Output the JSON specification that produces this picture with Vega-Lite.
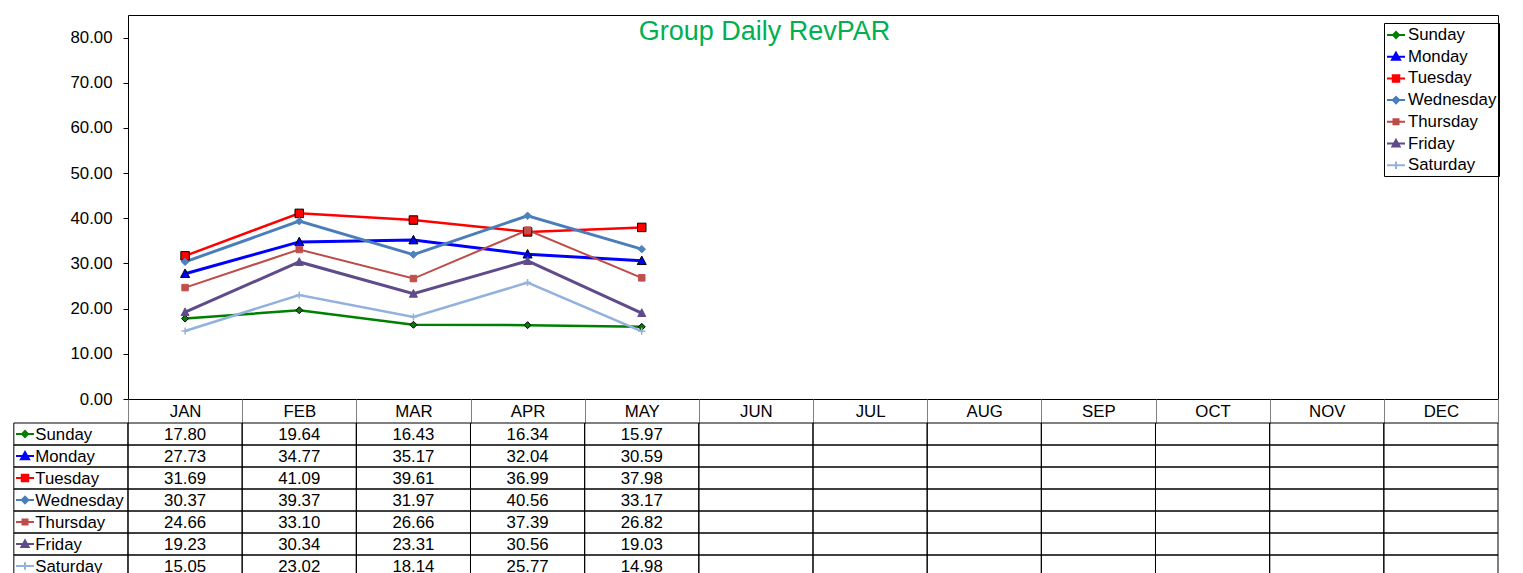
{
  "$schema": "https://vega.github.io/schema/vega-lite/v6.json",
  "padding": {"left": 12, "top": 14, "right": 0, "bottom": 0},
  "config": {"font": "Liberation Sans", "view": {"stroke": null}},
  "datasets": {
    "rev": [
      {"day": "Sunday", "month": "JAN", "value": 17.80}, {"day": "Sunday", "month": "FEB", "value": 19.64}, {"day": "Sunday", "month": "MAR", "value": 16.43}, {"day": "Sunday", "month": "APR", "value": 16.34}, {"day": "Sunday", "month": "MAY", "value": 15.97},
      {"day": "Sunday", "month": "JUN", "value": null}, {"day": "Sunday", "month": "JUL", "value": null}, {"day": "Sunday", "month": "AUG", "value": null}, {"day": "Sunday", "month": "SEP", "value": null}, {"day": "Sunday", "month": "OCT", "value": null}, {"day": "Sunday", "month": "NOV", "value": null}, {"day": "Sunday", "month": "DEC", "value": null},
      {"day": "Monday", "month": "JAN", "value": 27.73}, {"day": "Monday", "month": "FEB", "value": 34.77}, {"day": "Monday", "month": "MAR", "value": 35.17}, {"day": "Monday", "month": "APR", "value": 32.04}, {"day": "Monday", "month": "MAY", "value": 30.59},
      {"day": "Monday", "month": "JUN", "value": null}, {"day": "Monday", "month": "JUL", "value": null}, {"day": "Monday", "month": "AUG", "value": null}, {"day": "Monday", "month": "SEP", "value": null}, {"day": "Monday", "month": "OCT", "value": null}, {"day": "Monday", "month": "NOV", "value": null}, {"day": "Monday", "month": "DEC", "value": null},
      {"day": "Tuesday", "month": "JAN", "value": 31.69}, {"day": "Tuesday", "month": "FEB", "value": 41.09}, {"day": "Tuesday", "month": "MAR", "value": 39.61}, {"day": "Tuesday", "month": "APR", "value": 36.99}, {"day": "Tuesday", "month": "MAY", "value": 37.98},
      {"day": "Tuesday", "month": "JUN", "value": null}, {"day": "Tuesday", "month": "JUL", "value": null}, {"day": "Tuesday", "month": "AUG", "value": null}, {"day": "Tuesday", "month": "SEP", "value": null}, {"day": "Tuesday", "month": "OCT", "value": null}, {"day": "Tuesday", "month": "NOV", "value": null}, {"day": "Tuesday", "month": "DEC", "value": null},
      {"day": "Wednesday", "month": "JAN", "value": 30.37}, {"day": "Wednesday", "month": "FEB", "value": 39.37}, {"day": "Wednesday", "month": "MAR", "value": 31.97}, {"day": "Wednesday", "month": "APR", "value": 40.56}, {"day": "Wednesday", "month": "MAY", "value": 33.17},
      {"day": "Wednesday", "month": "JUN", "value": null}, {"day": "Wednesday", "month": "JUL", "value": null}, {"day": "Wednesday", "month": "AUG", "value": null}, {"day": "Wednesday", "month": "SEP", "value": null}, {"day": "Wednesday", "month": "OCT", "value": null}, {"day": "Wednesday", "month": "NOV", "value": null}, {"day": "Wednesday", "month": "DEC", "value": null},
      {"day": "Thursday", "month": "JAN", "value": 24.66}, {"day": "Thursday", "month": "FEB", "value": 33.10}, {"day": "Thursday", "month": "MAR", "value": 26.66}, {"day": "Thursday", "month": "APR", "value": 37.39}, {"day": "Thursday", "month": "MAY", "value": 26.82},
      {"day": "Thursday", "month": "JUN", "value": null}, {"day": "Thursday", "month": "JUL", "value": null}, {"day": "Thursday", "month": "AUG", "value": null}, {"day": "Thursday", "month": "SEP", "value": null}, {"day": "Thursday", "month": "OCT", "value": null}, {"day": "Thursday", "month": "NOV", "value": null}, {"day": "Thursday", "month": "DEC", "value": null},
      {"day": "Friday", "month": "JAN", "value": 19.23}, {"day": "Friday", "month": "FEB", "value": 30.34}, {"day": "Friday", "month": "MAR", "value": 23.31}, {"day": "Friday", "month": "APR", "value": 30.56}, {"day": "Friday", "month": "MAY", "value": 19.03},
      {"day": "Friday", "month": "JUN", "value": null}, {"day": "Friday", "month": "JUL", "value": null}, {"day": "Friday", "month": "AUG", "value": null}, {"day": "Friday", "month": "SEP", "value": null}, {"day": "Friday", "month": "OCT", "value": null}, {"day": "Friday", "month": "NOV", "value": null}, {"day": "Friday", "month": "DEC", "value": null},
      {"day": "Saturday", "month": "JAN", "value": 15.05}, {"day": "Saturday", "month": "FEB", "value": 23.02}, {"day": "Saturday", "month": "MAR", "value": 18.14}, {"day": "Saturday", "month": "APR", "value": 25.77}, {"day": "Saturday", "month": "MAY", "value": 14.98},
      {"day": "Saturday", "month": "JUN", "value": null}, {"day": "Saturday", "month": "JUL", "value": null}, {"day": "Saturday", "month": "AUG", "value": null}, {"day": "Saturday", "month": "SEP", "value": null}, {"day": "Saturday", "month": "OCT", "value": null}, {"day": "Saturday", "month": "NOV", "value": null}, {"day": "Saturday", "month": "DEC", "value": null}
    ]
  },
  "vconcat": [
    {
      "width": 1370,
      "height": 384,
      "view": {"stroke": "#000000", "strokeWidth": 1},
      "data": {"name": "rev"},
      "transform": [{"filter": "isValid(datum.value)"}],
      "encoding": {
        "x": {"field": "month", "type": "nominal", "bandPosition": 0.5,
          "scale": {"type": "band", "domain": ["JAN","FEB","MAR","APR","MAY","JUN","JUL","AUG","SEP","OCT","NOV","DEC"], "paddingInner": 0, "paddingOuter": 0},
          "axis": {"title": null, "orient": "bottom", "domain": false, "tickBand": "extent", "tickSize": 24, "tickColor": "#808080", "tickWidth": 1, "labelAngle": 0, "labelFontSize": 16.8, "labelColor": "#000000", "labelBaseline": "middle", "labelPadding": -12}},
        "y": {"field": "value", "type": "quantitative",
          "scale": {"domain": [0, 85], "nice": false, "zero": true},
          "axis": {"title": "Group Daily RevPAR", "titleAngle": 0, "titleX": 636, "titleY": 24, "titleAlign": "center", "titleBaseline": "alphabetic", "titleColor": "#00B050", "titleFontSize": 27, "titleFontWeight": "normal",
            "values": [0,10,20,30,40,50,60,70,80], "format": ".2f", "grid": false, "domain": false, "tickSize": 5, "tickColor": "#000000", "labelFontSize": 16.8, "labelColor": "#000000", "labelPadding": 11}}
      },
      "layer": [
        {
          "mark": {"type": "line"},
          "encoding": {
            "color": {"field": "day", "type": "nominal",
              "scale": {"domain": ["Sunday","Monday","Tuesday","Wednesday","Thursday","Friday","Saturday"], "range": ["#008000","#0000FF","#FF0000","#4A7EBB","#BE4B48","#5F4B8B","#93B1DD"]},
              "legend": {
                "title": null, "orient": "none", "legendX": 1256, "legendY": 8,
                "strokeColor": "#000000", "padding": 2, "labelFontSize": 16.8, "labelColor": "#000000", "labelOffset": 2,
                "symbolSize": 324, "symbolStrokeWidth": 2, "rowPadding": 2.7, "labelLimit": 200,
                "encode": {"symbols": {"update": {
                  "shape": {"signal": "['M-1,0H1M0,-0.33L0.33,0L0,0.33L-0.33,0Z','M-1,0H1M0,-0.45L0.45,0.35L-0.45,0.35Z','M-1,0H1M-0.36,-0.36H0.36V0.36H-0.36Z','M-1,0H1M0,-0.36L0.36,0L0,0.36L-0.36,0Z','M-1,0H1M-0.28,-0.28H0.28V0.28H-0.28Z','M-1,0H1M0,-0.4L0.4,0.32L-0.4,0.32Z','M-1,0H1M0,-0.42V0.42'][indexof(['Sunday','Monday','Tuesday','Wednesday','Thursday','Friday','Saturday'], datum.value)]"},
                  "fill": {"signal": "['#008000','#0000FF','#FF0000','#4F81BD','#C0504D','#5F4B8B','#95B3D7'][indexof(['Sunday','Monday','Tuesday','Wednesday','Thursday','Friday','Saturday'], datum.value)]"},
                  "stroke": {"signal": "['#008000','#0000FF','#FF0000','#4A7EBB','#BE4B48','#5F4B8B','#93B1DD'][indexof(['Sunday','Monday','Tuesday','Wednesday','Thursday','Friday','Saturday'], datum.value)]"},
                  "strokeWidth": {"value": 2},
                  "opacity": {"value": 1}
                }}}
              }},
            "strokeWidth": {"condition": [{"test": "datum.day === 'Thursday'", "value": 2}, {"test": "indexof(['Monday','Wednesday','Friday'], datum.day) >= 0", "value": 3}], "value": 2.5}
          }
        },
        {
          "mark": {"type": "point", "filled": true, "opacity": 1, "size": 100},
          "encoding": {
            "shape": {"condition": [
              {"test": "datum.day === 'Sunday'", "value": "M0,-0.7L0.7,0L0,0.7L-0.7,0Z"},
              {"test": "datum.day === 'Monday'", "value": "M0,-0.95L0.9,0.75L-0.9,0.75Z"},
              {"test": "datum.day === 'Tuesday'", "value": "M-0.85,-0.85H0.85V0.85H-0.85Z"},
              {"test": "datum.day === 'Wednesday'", "value": "M0,-0.75L0.75,0L0,0.75L-0.75,0Z"},
              {"test": "datum.day === 'Thursday'", "value": "M-0.65,-0.65H0.65V0.65H-0.65Z"},
              {"test": "datum.day === 'Friday'", "value": "M0,-0.85L0.8,0.7L-0.8,0.7Z"}
            ], "value": "M-0.7,0H0.7M0,-0.7V0.7"},
            "fill": {"condition": [
              {"test": "datum.day === 'Sunday'", "value": "#008000"},
              {"test": "datum.day === 'Monday'", "value": "#0000FF"},
              {"test": "datum.day === 'Tuesday'", "value": "#FF0000"},
              {"test": "datum.day === 'Wednesday'", "value": "#4F81BD"},
              {"test": "datum.day === 'Thursday'", "value": "#C0504D"},
              {"test": "datum.day === 'Friday'", "value": "#5F4B8B"}
            ], "value": "#95B3D7"},
            "stroke": {"condition": [
              {"test": "indexof(['Sunday','Monday','Tuesday'], datum.day) >= 0", "value": "#000000"},
              {"test": "datum.day === 'Wednesday'", "value": "#4F81BD"},
              {"test": "datum.day === 'Thursday'", "value": "#C0504D"},
              {"test": "datum.day === 'Friday'", "value": "#5F4B8B"}
            ], "value": "#95B3D7"},
            "strokeWidth": {"condition": {"test": "datum.day === 'Saturday'", "value": 1.5}, "value": 1}
          }
        }
      ]
    },
    {
      "width": 1370,
      "height": 154,
      "view": {"stroke": null},
      "data": {"name": "rev"},
      "encoding": {
        "y": {"field": "day", "type": "nominal",
          "scale": {"type": "band", "domain": ["Sunday","Monday","Tuesday","Wednesday","Thursday","Friday","Saturday"], "paddingInner": 0, "paddingOuter": 0},
          "axis": null}
      },
      "layer": [
        {
          "mark": {"type": "rect", "filled": false, "stroke": "#000000", "strokeWidth": 1},
          "encoding": {
            "x": {"field": "month", "type": "nominal",
              "scale": {"type": "band", "domain": ["label","JAN","FEB","MAR","APR","MAY","JUN","JUL","AUG","SEP","OCT","NOV","DEC"], "range": [-114.17, 1370], "paddingInner": 0, "paddingOuter": 0},
              "axis": null}
          }
        },
        {
          "transform": [{"filter": "isValid(datum.value)"}],
          "mark": {"type": "text", "fontSize": 16.8, "color": "#000000", "align": "center", "baseline": "middle", "dy": 1},
          "encoding": {
            "x": {"field": "month", "type": "nominal"},
            "text": {"field": "value", "type": "quantitative", "format": ".2f"}
          }
        },
        {
          "transform": [{"filter": "datum.month === 'JAN'"}],
          "mark": {"type": "rect", "filled": false, "stroke": "#000000", "strokeWidth": 1},
          "encoding": {
            "x": {"datum": "label", "type": "nominal"}
          }
        },
        {
          "transform": [{"filter": "datum.month === 'JAN'"}],
          "mark": {"type": "point", "filled": true, "opacity": 1, "size": 324, "strokeWidth": 2},
          "encoding": {
            "x": {"datum": "label", "type": "nominal", "bandPosition": 0.098},
            "shape": {"field": "day", "type": "nominal", "legend": null,
              "scale": {"domain": ["Sunday","Monday","Tuesday","Wednesday","Thursday","Friday","Saturday"],
                "range": ["M-1,0H1M0,-0.33L0.33,0L0,0.33L-0.33,0Z","M-1,0H1M0,-0.45L0.45,0.35L-0.45,0.35Z","M-1,0H1M-0.36,-0.36H0.36V0.36H-0.36Z","M-1,0H1M0,-0.36L0.36,0L0,0.36L-0.36,0Z","M-1,0H1M-0.28,-0.28H0.28V0.28H-0.28Z","M-1,0H1M0,-0.4L0.4,0.32L-0.4,0.32Z","M-1,0H1M0,-0.42V0.42"]}},
            "fill": {"field": "day", "type": "nominal", "legend": null,
              "scale": {"domain": ["Sunday","Monday","Tuesday","Wednesday","Thursday","Friday","Saturday"], "range": ["#008000","#0000FF","#FF0000","#4F81BD","#C0504D","#5F4B8B","#95B3D7"]}},
            "stroke": {"field": "day", "type": "nominal", "legend": null,
              "scale": {"domain": ["Sunday","Monday","Tuesday","Wednesday","Thursday","Friday","Saturday"], "range": ["#008000","#0000FF","#FF0000","#4A7EBB","#BE4B48","#5F4B8B","#93B1DD"]}}
          }
        },
        {
          "transform": [{"filter": "datum.month === 'JAN'"}],
          "mark": {"type": "text", "fontSize": 16.8, "color": "#000000", "align": "left", "baseline": "middle", "dy": 1},
          "encoding": {
            "x": {"datum": "label", "type": "nominal", "bandPosition": 0.188},
            "text": {"field": "day", "type": "nominal"}
          }
        }
      ]
    }
  ],
  "bounds": "flush",
  "spacing": 24,
  "resolve": {
    "scale": {"x": "independent", "y": "independent", "color": "independent", "fill": "independent", "stroke": "independent", "shape": "independent"},
    "legend": {"color": "independent", "fill": "independent", "stroke": "independent", "shape": "independent"}
  }
}
